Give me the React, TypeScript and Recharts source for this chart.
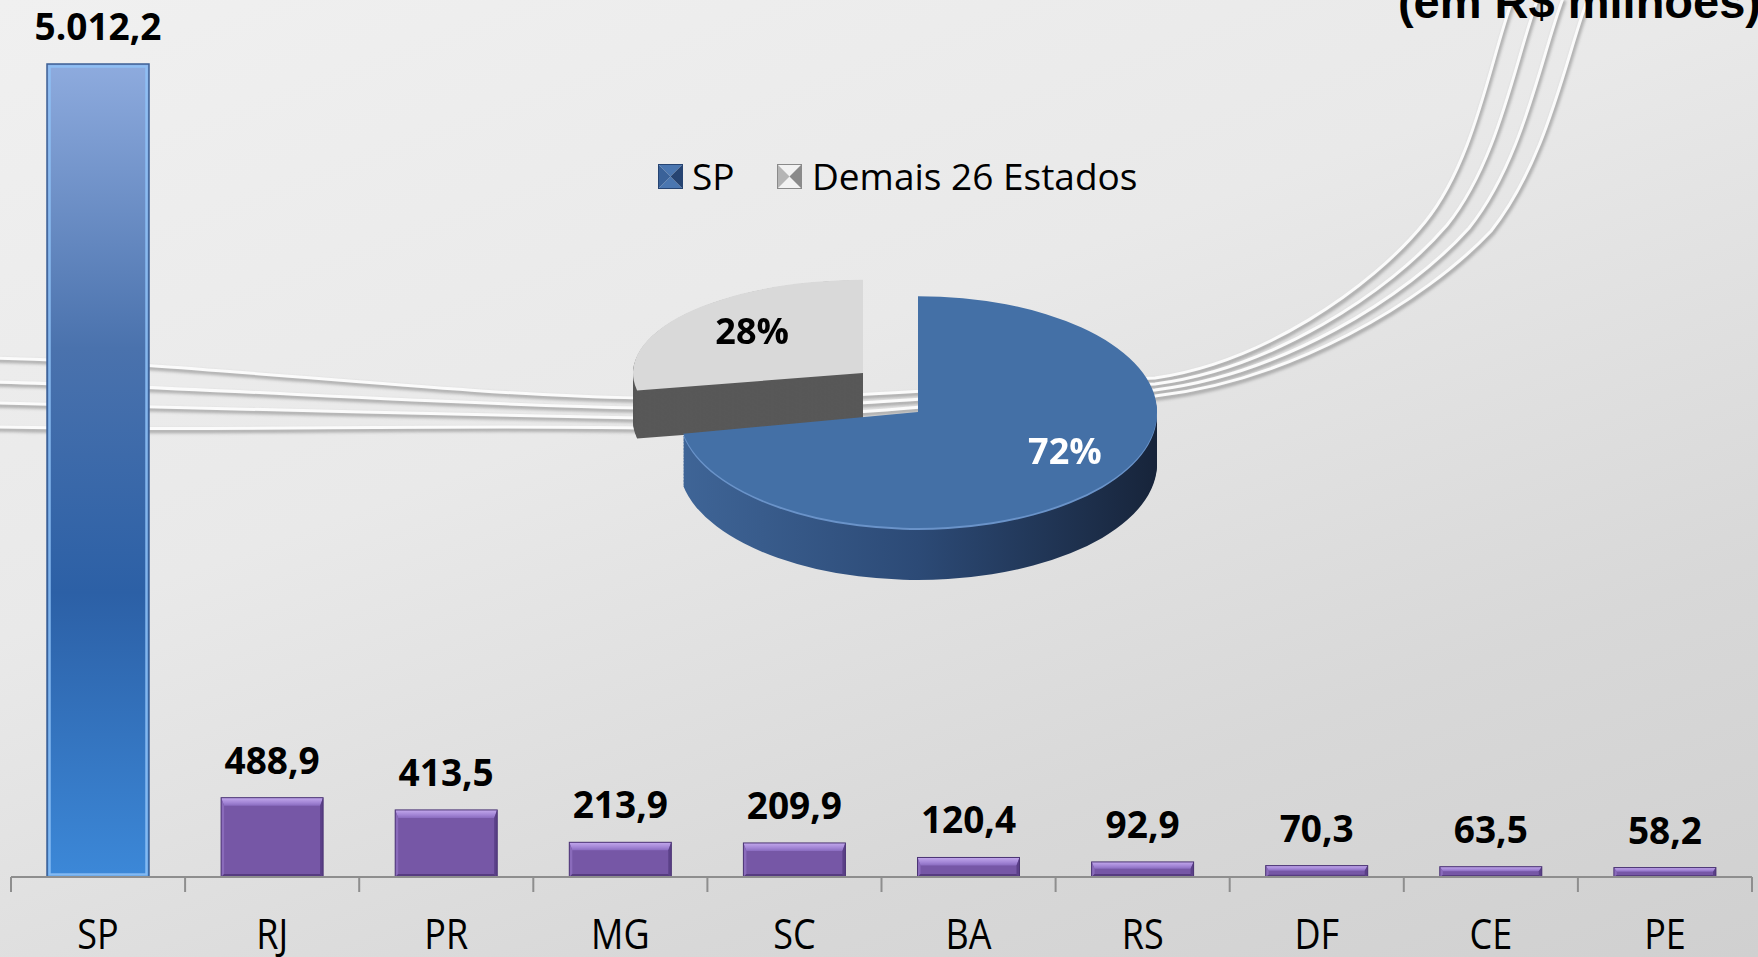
import React from 'react';
import { BarChart, Bar, XAxis, YAxis, LabelList, PieChart, Pie, Cell } from 'recharts';

// bar data (em R$ milhões)
const categories = ['SP', 'RJ', 'PR', 'MG', 'SC', 'BA', 'RS', 'DF', 'CE', 'PE'];
const values = [5012.2, 488.9, 413.5, 213.9, 209.9, 120.4, 92.9, 70.3, 63.5, 58.2];

// pie data
const pieNames = ['SP', 'Demais 26 Estados'];
const pieShares = [72, 28];

const title = '(em R$ milhões)';

const barData = categories.map((name, i) => ({ name, value: values[i] }));
const pieData = pieNames.map((name, i) => ({ name, value: pieShares[i] }));

const W = 1758;
const H = 957;
const FONT = '"Open Sans", "Noto Sans", sans-serif';

// pie geometry (screen px), squashed with scaleY to fake the 3D tilt
const K = 0.485;
const R = 239;
const CX = 918;
const CY = 414;
// exploded slice: further back, so a bit smaller and flatter
const K_BACK = 0.405;
const R_BACK = 230;
const GX = 863;
const GY = 373;
const STEP = 3;
const depthLayers = (depth: number) =>
  Array.from({ length: Math.ceil(depth / STEP) }, (_, i) => depth - i * STEP);

const fmt = (v: number) => {
  const [i, d] = v.toFixed(1).split('.');
  return i.replace(/\B(?=(\d{3})+(?!\d))/g, '.') + ',' + d;
};

const CategoryTick = (props: any) => {
  const { x, y, payload, index, visibleTicksCount } = props;
  const half = payload && payload.offset != null ? payload.offset : 87;
  return (
    <g>
      <line x1={x - half} y1={y} x2={x - half} y2={y + 15} stroke="#8e8e8e" strokeWidth={2} />
      {index === visibleTicksCount - 1 && (
        <line x1={x + half} y1={y} x2={x + half} y2={y + 15} stroke="#8e8e8e" strokeWidth={2} />
      )}
      <text
        transform={`translate(${x},${y + 72}) scale(1,1.15)`}
        textAnchor="middle"
        fontSize={36}
        fontFamily={FONT}
        fill="#000"
      >
        {payload.value}
      </text>
    </g>
  );
};

const BarShape = (props: any) => {
  const { x, y, width: w, height: h, payload } = props;
  if (!h || h <= 0) return <g />;
  if (payload.name === 'SP') {
    return (
      <g>
        <rect x={x} y={y} width={w} height={h} fill="url(#spFill)" stroke="#3d6096" strokeWidth={1.5} />
        <rect x={x + 2.5} y={y + 2.5} width={w - 5} height={h - 5} fill="none" stroke="#8fc2f7" strokeWidth={2.5} opacity={0.85} />
      </g>
    );
  }
  const t = Math.min(8, h * 0.45);
  const s = Math.min(3, h * 0.3);
  const b = Math.min(3, h * 0.2);
  return (
    <g>
      <rect x={x} y={y} width={w} height={h} fill="#7657a6" />
      <polygon points={`${x},${y} ${x + w},${y} ${x + w - s},${y + t} ${x + s},${y + t}`} fill="url(#purpleTop)" />
      <polygon points={`${x},${y} ${x + s},${y + t} ${x + s},${y + h - b} ${x},${y + h}`} fill="#8a6bbb" />
      <polygon points={`${x + w},${y} ${x + w - s},${y + t} ${x + w - s},${y + h - b} ${x + w},${y + h}`} fill="#5b4088" />
      <polygon points={`${x},${y + h} ${x + s},${y + h - b} ${x + w - s},${y + h - b} ${x + w},${y + h}`} fill="#563c80" />
      <rect x={x} y={y} width={w} height={h} fill="none" stroke="#4b3474" strokeWidth={1} />
    </g>
  );
};

const ValueLabel = (props: any) => {
  const { x, y, width, value } = props;
  return (
    <text x={x + width / 2} y={y - 24} textAnchor="middle" fontSize={37} fontWeight={700} fontFamily={FONT} fill="#000">
      {fmt(value)}
    </text>
  );
};

const pieLabel = (which: number, frac: number, turn: number, color: string, k: number) => (props: any) => {
  const { cx, cy, midAngle, outerRadius, index, percent } = props;
  if (index !== which) return <g />;
  const RAD = Math.PI / 180;
  const r = outerRadius * frac;
  const a = midAngle + turn;
  const px = cx + r * Math.cos(-a * RAD);
  const py = cy + r * Math.sin(-a * RAD);
  return (
    <text
      transform={`translate(${px},${py}) scale(1,${1 / k})`}
      textAnchor="middle"
      dominantBaseline="central"
      fontSize={36}
      fontWeight={700}
      fontFamily={FONT}
      fill={color}
    >
      {`${Math.round(percent * 100)}%`}
    </text>
  );
};

const swooshes = [0, 1, 2, 3].map((i) => {
  const yL = [358, 382, 403, 427][i];
  const yM = 398 + 10 * i;
  const yR = 378 + 6 * i;
  return `M -5 ${yL} C 200 ${yL + 5}, 430 ${yM - 4}, 640 ${yM} C 850 ${yM + 4}, 1000 ${yR + 5}, 1155 ${yR} ` +
    `C ${1260 + 10 * i} ${yR - 15}, ${1370 + 18 * i} ${290 + 4 * i}, ${1425 + 22 * i} ${222 + 3 * i} ` +
    `C ${1475 + 24 * i} 160, ${1490 + 25 * i} 60, ${1513 + 25 * i} -2`;
});

const LegendIcon = ({ light, mid, dark }: { light: string; mid: string; dark: string }) => (
  <svg width={25} height={25} style={{ display: 'block' }}>
    <polygon points="0,0 25,0 12.5,12.5" fill={light} />
    <polygon points="0,25 25,25 12.5,12.5" fill={light} />
    <polygon points="0,0 12.5,12.5 0,25" fill={mid} />
    <polygon points="25,0 12.5,12.5 25,25" fill={dark} />
    <rect x={0.5} y={0.5} width={24} height={24} fill="none" stroke={dark} strokeWidth={1} />
  </svg>
);

const piePieces = (cx: number, cy: number, r: number, fills: string[], label?: any, key?: string) => (
  <Pie
    key={key}
    data={pieData}
    dataKey="value"
    cx={cx}
    cy={cy}
    outerRadius={r}
    startAngle={90}
    endAngle={-270}
    stroke="none"
    labelLine={false}
    label={label || false}
    isAnimationActive={false}
  >
    {fills.map((f, i) => (
      <Cell key={i} fill={f} />
    ))}
  </Pie>
);

const App: React.FC = () => {
  const gy = GY / K_BACK;
  const by = CY / K;
  return (
    <div
      style={{
        position: 'absolute',
        left: 0,
        top: 0,
        width: W,
        height: H,
        overflow: 'hidden',
        background: 'linear-gradient(160deg, #f0f0f0 0%, #e9e9e9 40%, #d8d8d8 75%, #d0d0d0 100%)',
        fontFamily: FONT,
      }}
    >
      <svg width={W} height={H} style={{ position: 'absolute', left: 0, top: 0 }}>
        <defs>
          <filter id="soft" x="-5%" y="-5%" width="110%" height="110%">
            <feGaussianBlur stdDeviation="1.6" />
          </filter>
        </defs>
        {swooshes.map((d, i) => (
          <g key={i}>
            <path d={d} fill="none" stroke="#888" strokeWidth={4.5} opacity={0.6} transform="translate(1.5,2.5)" filter="url(#soft)" />
            <path d={d} fill="none" stroke="#fbfbfb" strokeWidth={3} />
          </g>
        ))}
        <text x={1761} y={18} textAnchor="end" fontSize={47} fontWeight={700} fontFamily='"Liberation Sans", Arial, sans-serif' fill="#000">
          {title}
        </text>
      </svg>

      <div style={{ position: 'absolute', left: 0, top: 0 }}>
        <BarChart width={W} height={H} data={barData} margin={{ top: 64, right: 6, bottom: 0, left: 11 }}>
          <defs>
            <linearGradient id="spFill" x1="0" y1="0" x2="0" y2="1">
              <stop offset="0%" stopColor="#8eabde" />
              <stop offset="35%" stopColor="#4a72ad" />
              <stop offset="65%" stopColor="#2c60a6" />
              <stop offset="100%" stopColor="#3c88d8" />
            </linearGradient>
            <linearGradient id="purpleTop" x1="0" y1="0" x2="0" y2="1">
              <stop offset="0%" stopColor="#c3a9ec" />
              <stop offset="60%" stopColor="#a386d6" />
              <stop offset="100%" stopColor="#8a6cc0" />
            </linearGradient>
          </defs>
          <XAxis
            dataKey="name"
            height={80}
            interval={0}
            tickLine={false}
            tickSize={0}
            tickMargin={0}
            axisLine={{ stroke: '#8e8e8e', strokeWidth: 2 }}
            tick={(p: any) => <CategoryTick {...p} />}
          />
          <YAxis hide domain={[0, 'dataMax']} />
          <Bar dataKey="value" barSize={102} isAnimationActive={false} shape={(p: any) => <BarShape {...p} />}>
            <LabelList dataKey="value" content={(p: any) => <ValueLabel {...p} />} />
          </Bar>
        </BarChart>
      </div>

      <div style={{ position: 'absolute', left: 658, top: 150, height: 52, display: 'flex', alignItems: 'center' }}>
        <LegendIcon light="#4a76b0" mid="#3a6299" dark="#264472" />
      </div>
      <div style={{ position: 'absolute', left: 692, top: 150, height: 52, lineHeight: '52px', fontSize: 37, color: '#000' }}>
        {pieNames[0]}
      </div>
      <div style={{ position: 'absolute', left: 777, top: 150, height: 52, display: 'flex', alignItems: 'center' }}>
        <LegendIcon light="#f2f2f2" mid="#b5b5b5" dark="#8a8a8a" />
      </div>
      <div style={{ position: 'absolute', left: 812, top: 150, height: 52, lineHeight: '52px', fontSize: 37, color: '#000', whiteSpace: 'nowrap' }}>
        {pieNames[1]}
      </div>

      {/* exploded "Demais" slice, behind */}
      <div style={{ position: 'absolute', left: 0, top: 0, transform: `scaleY(${K_BACK})`, transformOrigin: '0 0' }}>
        <PieChart width={W} height={1500} margin={{ top: 0, right: 0, bottom: 0, left: 0 }}>
          {depthLayers(48 / K_BACK).map((off) => piePieces(GX, gy + off, R_BACK, ['none', '#585858'], undefined, `g${off}`))}
          {piePieces(GX, gy, R_BACK, ['none', '#d9d9d9'], pieLabel(1, 0.66, -3.5, '#000', K_BACK), 'gtop')}
        </PieChart>
      </div>

      {/* SP slice */}
      <div style={{ position: 'absolute', left: 0, top: 0, transform: `scaleY(${K})`, transformOrigin: '0 0' }}>
        <PieChart width={W} height={1300} margin={{ top: 0, right: 0, bottom: 0, left: 0 }}>
          <defs>
            <linearGradient id="blueSide" gradientUnits="userSpaceOnUse" x1={CX - R} y1={0} x2={CX + R} y2={0}>
              <stop offset="0%" stopColor="#3f6597" />
              <stop offset="50%" stopColor="#2c4a76" />
              <stop offset="100%" stopColor="#17243a" />
            </linearGradient>
          </defs>
          {depthLayers(50 / K).map((off) => piePieces(CX, by + off, R, ['url(#blueSide)', 'none'], undefined, `b${off}`))}
          {piePieces(CX, by, R, ['#6a93c9', 'none'], undefined, 'brim')}
          {piePieces(CX, by - 4, R, ['#4470a6', 'none'], pieLabel(0, 0.7, 11, '#fff', K), 'btop')}
        </PieChart>
      </div>
    </div>
  );
};

export default App;
